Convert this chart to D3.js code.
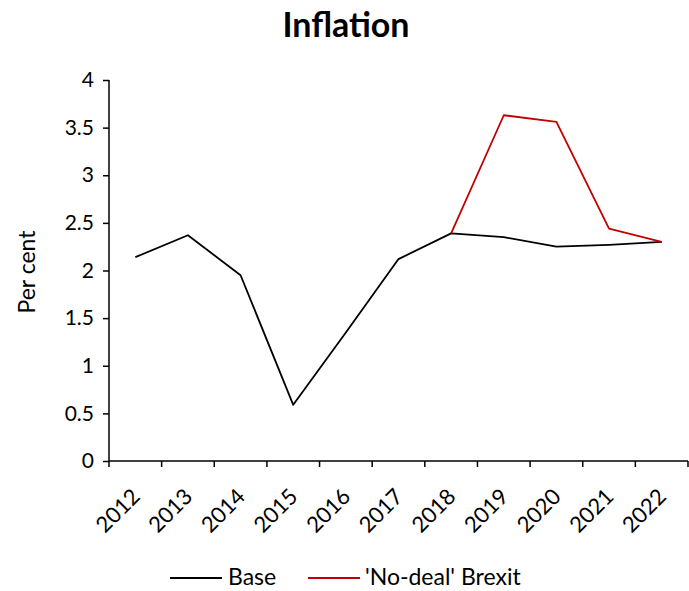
<!DOCTYPE html>
<html>
<head>
<meta charset="utf-8">
<script src="https://cdn.jsdelivr.net/npm/d3@7"></script>
<style>
  body { margin: 0; background: #fff; }
  svg { display: block; font-family: Lato, "Open Sans", sans-serif; }
</style>
</head>
<body>
<svg id="chart" width="689" height="591"></svg>
<script>
// Annual inflation, per cent
const years = ["2012", "2013", "2014", "2015", "2016", "2017", "2018", "2019", "2020", "2021", "2022"];
const baseValues = [2.14, 2.37, 1.95, 0.59, 1.35, 2.12, 2.39, 2.35, 2.25, 2.27, 2.30];
const noDealValues = [null, null, null, null, null, null, 2.39, 3.63, 3.56, 2.44, 2.30];
const yTicks = [0, 0.5, 1, 1.5, 2, 2.5, 3, 3.5, 4];
const seriesNames = ["Base", "'No-deal' Brexit"];
const seriesColors = ["#000000", "#C00000"];

const svg = d3.select("#chart");
const plotLeft = 109, plotRight = 688, plotTop = 80, plotBottom = 461;
const tickFont = 21;

const x = d3.scaleBand().domain(years).range([plotLeft, plotRight]).padding(0);
const y = d3.scaleLinear().domain([0, 4]).range([plotBottom, plotTop]);

// Title
svg.append("text")
  .attr("x", 346).attr("y", 37)
  .attr("text-anchor", "middle")
  .attr("font-size", 34).attr("font-weight", "bold")
  .text("Inflation");

// Y axis
const yAxis = svg.append("g")
  .attr("transform", `translate(${plotLeft},0)`)
  .call(d3.axisLeft(y).tickValues(yTicks).tickFormat(d3.format("")).tickSize(6).tickPadding(9));
yAxis.select(".domain").attr("stroke", "#000").attr("stroke-width", 1.5).attr("d", `M0,${plotTop}V${plotBottom}`);
yAxis.selectAll(".tick line").attr("stroke", "#000").attr("stroke-width", 1.5);
yAxis.selectAll(".tick text").attr("font-size", tickFont).attr("fill", "#000").attr("font-family", "Lato, sans-serif");

// X axis: ticks sit on the category boundaries
const xAxis = svg.append("g").attr("transform", `translate(0,${plotBottom})`);
xAxis.append("line")
  .attr("x1", plotLeft).attr("x2", plotRight).attr("y1", 0).attr("y2", 0)
  .attr("stroke", "#000").attr("stroke-width", 1.5);
const boundaries = years.map(d => x(d)).concat([x(years[years.length - 1]) + x.bandwidth()]);
xAxis.selectAll("line.tick").data(boundaries).enter().append("line")
  .attr("class", "tick")
  .attr("x1", d => d).attr("x2", d => d).attr("y1", 0).attr("y2", 6)
  .attr("stroke", "#000").attr("stroke-width", 1.5);
xAxis.selectAll("text.lbl").data(years).enter().append("text")
  .attr("class", "lbl")
  .attr("text-anchor", "end")
  .attr("font-size", 22)
  .attr("transform", d => `translate(${x(d) + x.bandwidth() / 2 - 5},${26}) rotate(-45)`)
  .attr("dy", "0.7em")
  .text(d => d);

// Y axis title
svg.append("text")
  .attr("transform", `translate(35,${272}) rotate(-90)`)
  .attr("text-anchor", "middle")
  .attr("font-size", 23)
  .text("Per cent");

// Lines
const line = d3.line()
  .defined(d => d.v !== null)
  .x(d => x(d.year) + x.bandwidth() / 2)
  .y(d => y(d.v));

[baseValues, noDealValues].forEach((vals, i) => {
  svg.append("path")
    .datum(years.map((yr, j) => ({ year: yr, v: vals[j] })))
    .attr("fill", "none")
    .attr("stroke", seriesColors[i])
    .attr("stroke-width", 1.8)
    .attr("stroke-linejoin", "round")
    .attr("d", line);
});

// Legend
const legendItems = [{ x1: 170, tx: 228 }, { x1: 308, tx: 365 }];
legendItems.forEach((p, i) => {
  svg.append("line")
    .attr("x1", p.x1).attr("x2", p.x1 + 52)
    .attr("y1", 578).attr("y2", 578)
    .attr("stroke", seriesColors[i]).attr("stroke-width", 1.8);
  svg.append("text")
    .attr("x", p.tx).attr("y", 585)
    .attr("font-size", 23)
    .text(seriesNames[i]);
});
</script>
</body>
</html>
